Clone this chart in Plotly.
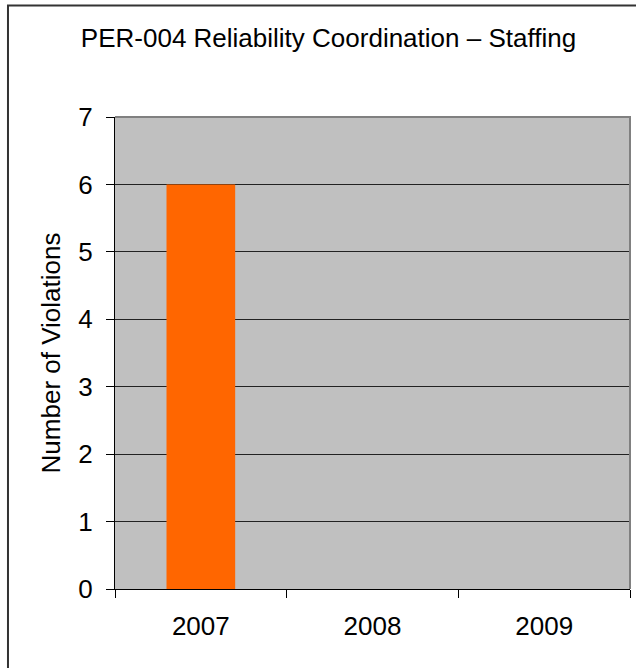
import plotly.graph_objects as go

# Chart data
years = ["2007", "2008", "2009"]
violations = [6, 0, 0]
y_ticks = [0, 1, 2, 3, 4, 5, 6, 7]

FONT = "Liberation Sans, Arial, sans-serif"
FS = 26

fig = go.Figure()
fig.add_bar(
    x=years,
    y=violations,
    marker_color="#FF6600",
    marker_line_width=0,
    width=0.4,
)

# Outer chart border (only left and top visible in the crop)
fig.add_shape(
    type="rect", xref="paper", yref="paper",
    x0=-0.2078, x1=1.2, y0=-0.3, y1=1.236,
    line=dict(color="#333333", width=2),
    fillcolor="rgba(0,0,0,0)",
    layer="above",
)
# Plot-area frame top and right in gray
fig.add_shape(
    type="path", xref="paper", yref="paper",
    path="M 0,1 L 1,1 L 1,0",
    line=dict(color="#808080", width=2),
    layer="above",
)

fig.update_xaxes(
    type="category",
    tickson="boundaries",
    ticks="outside",
    ticklen=8,
    tickcolor="black",
    linecolor="black",
    linewidth=1,
    showgrid=False,
    zeroline=False,
    automargin=False,
    ticklabelstandoff=14,
    tickfont=dict(size=FS, color="black", family=FONT),
)
fig.update_yaxes(
    range=[0, 7],
    tickvals=y_ticks,
    ticks="outside",
    ticklen=8,
    tickcolor="black",
    linecolor="black",
    linewidth=1,
    showgrid=True,
    gridcolor="#222222",
    gridwidth=1,
    zeroline=False,
    automargin=False,
    ticklabelstandoff=8,
    tickfont=dict(size=FS, color="black", family=FONT),
    title=dict(text="Number of Violations", font=dict(size=FS, color="black", family=FONT), standoff=10),
)

fig.update_layout(
    width=636,
    height=668,
    margin=dict(l=115, r=6, t=117, b=79),
    plot_bgcolor="#C0C0C0",
    paper_bgcolor="white",
    showlegend=False,
    font=dict(family=FONT, color="black", size=FS),
    title=dict(
        text="PER-004 Reliability Coordination – Staffing",
        x=0.5165, xref="container", xanchor="center",
        y=0.943, yref="container", yanchor="middle",
        automargin=False,
        font=dict(size=FS, color="black", family=FONT),
    ),
)

# drop the default 8px page margin so the figure sits at the window origin
fig.write_html(
    "out.html",
    config={"displayModeBar": False},
    post_script="document.body.style.margin='0';",
)
